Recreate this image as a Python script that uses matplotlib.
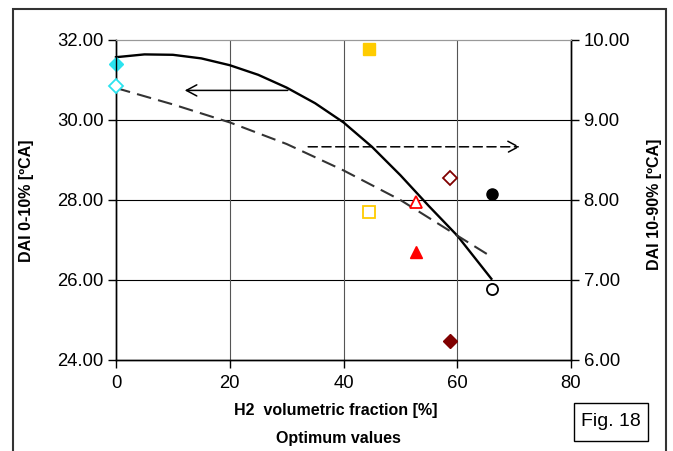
import matplotlib
matplotlib.use("Agg")
import matplotlib.pyplot as plt
from matplotlib.patches import Rectangle, FancyArrowPatch

plt.rcParams['font.family'] = ['Liberation Sans', 'DejaVu Sans']

# ---- data ----
h2 = [0, 44.5, 52.7, 58.7, 66.1]
dai_0_10 = [31.40, 31.77, 26.69, 24.48, 28.14]        # left axis (filled markers)
dai_10_90 = [9.425, 7.855, 7.97, 8.27, 6.89]          # right axis (open markers)
colors = ['#2BE3EF', '#FFCC00', '#FF0000', '#800000', '#000000']
markers = ['D', 's', '^', 'D', 'o']
msizes = [7, 8.5, 8.5, 7, 8]

trend1_x = [0, 5, 10, 15, 20, 25, 30, 35, 40, 45, 50, 55, 60, 66]
trend1_y = [31.57, 31.64, 31.63, 31.54, 31.37, 31.13, 30.81, 30.42, 29.94, 29.33, 28.62, 27.85, 27.11, 26.03]

trend2_x = [0, 10, 20, 30, 40, 50, 60, 65.9]
trend2_y = [9.40, 9.195, 8.97, 8.70, 8.37, 8.00, 7.555, 7.295]

xticks = [0, 20, 40, 60, 80]
yticks_left = [24, 26, 28, 30, 32]
yticks_right = [6, 7, 8, 9, 10]

W, H = 673, 451
fig = plt.figure(figsize=(W / 100, H / 100), dpi=100)
ax = fig.add_axes([116 / W, 1 - 360 / H, (571 - 116) / W, 320 / H])
ax2 = ax.twinx()

ax.set_xlim(0, 80)
ax.set_ylim(24, 32)
ax2.set_ylim(6, 10)

ax.set_xticks(xticks)
ax.set_xticklabels([str(v) for v in xticks])
ax.set_yticks(yticks_left)
ax.set_yticklabels([f"{v:.2f}" for v in yticks_left])
ax2.set_yticks(yticks_right)
ax2.set_yticklabels([f"{v:.2f}" for v in yticks_right])

for a in (ax, ax2):
    a.tick_params(direction='out', length=6, width=1, labelsize=13.3, color='black', pad=3)
ax.tick_params(axis='x', pad=5)

# grid
for yv in [26, 28, 30]:
    ax.axhline(yv, color='black', lw=0.8, zorder=1)
for xv in [20, 40, 60]:
    ax.axvline(xv, color='#555555', lw=0.8, zorder=1)

for a in (ax, ax2):
    a.spines['top'].set_color('#999999')
    for s in ['left', 'right', 'bottom']:
        a.spines[s].set_color('black')
        a.spines[s].set_linewidth(1)

# trend lines
ax.plot(trend1_x, trend1_y, color='black', lw=1.7, zorder=3, clip_on=False)
ax2.plot(trend2_x, trend2_y, color='#333333', lw=1.5, ls=(0, (7, 3.5)), zorder=3)

# markers
for x, y0, y1, c, m, ms in zip(h2, dai_0_10, dai_10_90, colors, markers, msizes):
    ax.plot([x], [y0], marker=m, ms=ms, color=c, mec=c, ls='none', zorder=5, clip_on=False)
    ax2.plot([x], [y1], marker=m, ms=ms, mfc='white', mec=c, mew=1.3, ls='none', zorder=5, clip_on=False)

# arrows
arr1 = FancyArrowPatch((30.7, 30.74), (11.6, 30.74), arrowstyle='->,head_length=0.75,head_width=0.4',
                       mutation_scale=10, color='black', lw=1.1, zorder=4)
ax.add_patch(arr1)
arr2 = FancyArrowPatch((33.3, 8.665), (71.5, 8.665), arrowstyle='->,head_length=0.75,head_width=0.4',
                       mutation_scale=10, color='black', lw=1.1, ls=(0, (6, 3)), zorder=4)
ax2.add_patch(arr2)

# axis labels (placed in figure coords)
fig.text(27 / W, 1 - 201 / H, 'DAI 0-10% [ºCA]', rotation=90, ha='center', va='center',
         fontsize=11.5, fontweight='bold')
fig.text(654 / W, 1 - 204 / H, 'DAI 10-90% [ºCA]', rotation=90, ha='center', va='center',
         fontsize=11.5, fontweight='bold')
fig.text(336 / W, 1 - 411 / H, 'H2  volumetric fraction [%]', ha='center', va='center',
         fontsize=11.5, fontweight='bold')
fig.text(338 / W, 1 - 439 / H, 'Optimum values', ha='center', va='center',
         fontsize=11.5, fontweight='bold')

# Fig. 18 box
fig.text(611 / W, 1 - 422 / H, 'Fig. 18', ha='center', va='center', fontsize=14)
fig.patches.append(Rectangle((574 / W, 1 - 441 / H), 74 / W, 38 / H, transform=fig.transFigure,
                             fill=False, edgecolor='black', lw=1))

# outer frame
fig.patches.append(Rectangle((12.5 / W, -0.1), (666 - 12.5) / W, 1.1 - 9 / H, transform=fig.transFigure,
                             fill=False, edgecolor='#333333', lw=1.5, clip_on=False))

fig.savefig('out.png', dpi=100)
